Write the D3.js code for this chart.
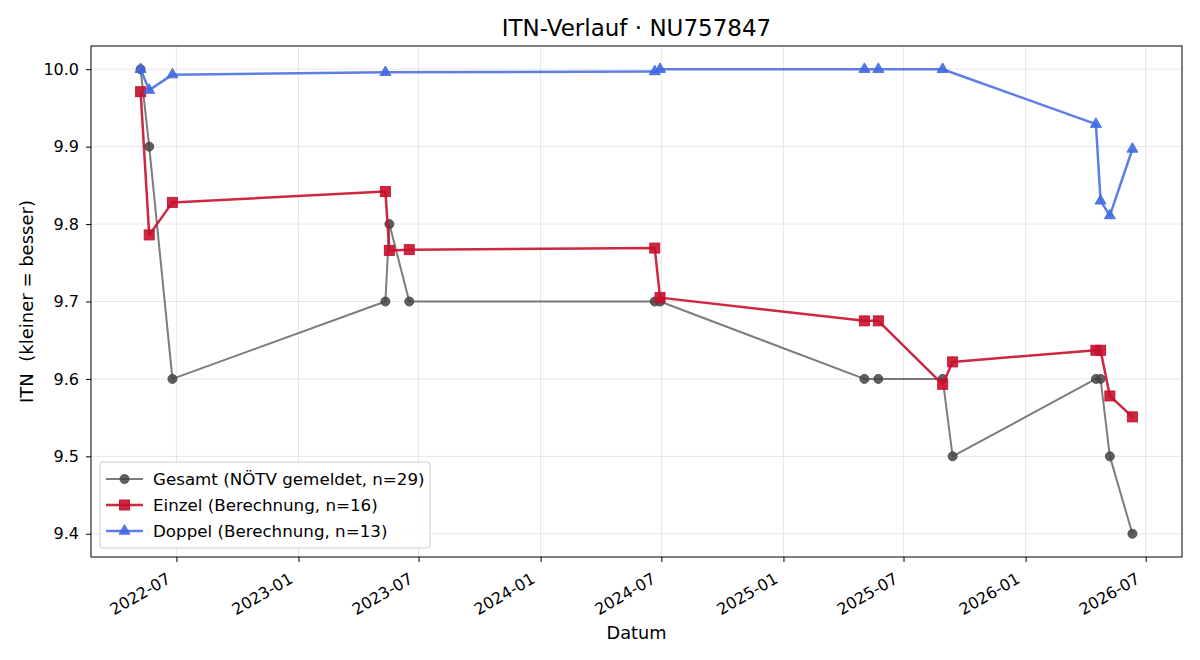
<!DOCTYPE html>
<html>
<head>
<meta charset="utf-8">
<script src="https://cdn.jsdelivr.net/npm/d3@7"></script>
<style>
  body { margin: 0; background: #fff; }
  text { font-family: "DejaVu Sans", sans-serif; }
</style>
</head>
<body>
<div id="chart"></div>
<script>
// data
var gesamtDates = ["2022-05-08","2022-05-21","2022-06-25","2023-05-12","2023-05-18","2023-06-17",
    "2024-06-21","2024-06-29","2025-05-03","2025-05-24","2025-08-29","2025-09-13",
    "2026-04-17","2026-04-24","2026-05-08","2026-06-11"];
var gesamtValues = [10.0, 9.9, 9.6, 9.7, 9.8, 9.7, 9.7, 9.7, 9.6, 9.6, 9.6, 9.5, 9.6, 9.6, 9.5, 9.4];

var einzelDates = ["2022-05-08","2022-05-21","2022-06-25","2023-05-12","2023-05-18","2023-06-17",
    "2024-06-21","2024-06-29","2025-05-03","2025-05-24","2025-08-29","2025-09-13",
    "2026-04-17","2026-04-24","2026-05-08","2026-06-11"];
var einzelValues = [9.971, 9.786, 9.828, 9.842, 9.766, 9.767, 9.769, 9.705, 9.675, 9.675,
    9.593, 9.622, 9.637, 9.637, 9.578, 9.551];

var doppelDates = ["2022-05-08","2022-05-21","2022-06-25","2023-05-12","2024-06-21","2024-06-29",
    "2025-05-03","2025-05-24","2025-08-29","2026-04-17","2026-04-24","2026-05-08","2026-06-11"];
var doppelValues = [10.0, 9.973, 9.993, 9.996, 9.997, 10.0, 10.0, 10.0, 10.0, 9.929, 9.830, 9.811, 9.897];

var yTicks = [9.4, 9.5, 9.6, 9.7, 9.8, 9.9, 10.0];
var legendLabels = ["Gesamt (NÖTV gemeldet, n=29)", "Einzel (Berechnung, n=16)", "Doppel (Berechnung, n=13)"];

var parse = d3.timeParse("%Y-%m-%d");
function zip(dates, values) {
    return dates.map(function(d, i) { return { date: parse(d), value: values[i] }; });
}

var series = [
    { label: legendLabels[0], data: zip(gesamtDates, gesamtValues), color: "#444444",
      lineOpacity: 0.7, width: 2, marker: "circle", size: 4.5, markerOpacity: 0.85 },
    { label: legendLabels[1], data: zip(einzelDates, einzelValues), color: "#c8102e",
      lineOpacity: 0.9, width: 2.5, marker: "square", size: 5, markerOpacity: 0.9 },
    { label: legendLabels[2], data: zip(doppelDates, doppelValues), color: "#4169e1",
      lineOpacity: 0.85, width: 2.5, marker: "triangle", size: 5.5, markerOpacity: 0.9 }
];

var W = 1200, H = 660;
var margin = { left: 91, right: 18, top: 46, bottom: 103 };
var width = W - margin.left - margin.right;
var height = H - margin.top - margin.bottom;

var svg = d3.select("#chart").append("svg")
    .attr("width", W)
    .attr("height", H);

var g = svg.append("g")
    .attr("transform", "translate(" + margin.left + "," + margin.top + ")");

// 5% margins like matplotlib
var allPts = series[0].data.concat(series[1].data, series[2].data);
var xExt = d3.extent(allPts, function(d) { return d.date; });
var xPad = (xExt[1] - xExt[0]) * 0.05;
var x = d3.scaleTime()
    .domain([new Date(+xExt[0] - xPad), new Date(+xExt[1] + xPad)])
    .range([0, width]);

var yExt = d3.extent(allPts, function(d) { return d.value; });
var yPad = (yExt[1] - yExt[0]) * 0.05;
var y = d3.scaleLinear()
    .domain([yExt[0] - yPad, yExt[1] + yPad])
    .range([height, 0]);

var xTicks = d3.timeMonth.every(6).range(d3.timeMonth.ceil(x.domain()[0]), x.domain()[1]);

// grid
g.append("g").selectAll("line").data(xTicks).enter().append("line")
    .attr("x1", function(d) { return x(d); })
    .attr("x2", function(d) { return x(d); })
    .attr("y1", 0).attr("y2", height)
    .attr("stroke", "#b0b0b0").attr("stroke-opacity", 0.3).attr("stroke-width", 1);
g.append("g").selectAll("line").data(yTicks).enter().append("line")
    .attr("y1", function(d) { return y(d); })
    .attr("y2", function(d) { return y(d); })
    .attr("x1", 0).attr("x2", width)
    .attr("stroke", "#b0b0b0").attr("stroke-opacity", 0.3).attr("stroke-width", 1);

// axes
var xAxis = g.append("g")
    .attr("transform", "translate(0," + height + ")")
    .call(d3.axisBottom(x).tickValues(xTicks).tickFormat(d3.timeFormat("%Y-%m")).tickSize(5));
xAxis.selectAll(".tick text")
    .attr("font-size", "16px")
    .attr("fill", "#000")
    .style("text-anchor", "end")
    .attr("x", null).attr("y", null).attr("dy", null)
    .attr("transform", "translate(-5,25) rotate(-30)");

var yAxis = g.append("g")
    .call(d3.axisLeft(y).tickValues(yTicks).tickFormat(d3.format(".1f")).tickSize(5).tickPadding(7));
yAxis.selectAll("text").attr("font-size", "16px").attr("fill", "#000");

[xAxis, yAxis].forEach(function(a) {
    a.select(".domain").remove();
    a.selectAll(".tick line").attr("stroke", "#000").attr("stroke-width", 1);
});

g.append("rect")
    .attr("width", width).attr("height", height)
    .attr("fill", "none").attr("stroke", "#000").attr("stroke-width", 1);

// lines + markers
var line = d3.line()
    .x(function(d) { return x(d.date); })
    .y(function(d) { return y(d.value); });

function drawMarker(sel, s) {
    if (s.marker == "circle") {
        sel.append("circle").attr("r", s.size);
    } else if (s.marker == "square") {
        sel.append("rect")
            .attr("x", -s.size).attr("y", -s.size)
            .attr("width", s.size * 2).attr("height", s.size * 2);
    } else {
        sel.append("path").attr("d", d3.symbol().type(d3.symbolTriangle).size(s.size * s.size * 1.73)());
    }
}

series.forEach(function(s) {
    g.append("path")
        .datum(s.data)
        .attr("d", line)
        .attr("fill", "none")
        .attr("stroke", s.color)
        .attr("stroke-opacity", s.lineOpacity)
        .attr("stroke-width", s.width)
        .attr("stroke-linejoin", "round");

    var m = g.append("g").selectAll("g").data(s.data).enter().append("g")
        .attr("transform", function(d) { return "translate(" + x(d.date) + "," + y(d.value) + ")"; })
        .attr("fill", s.color)
        .attr("fill-opacity", s.markerOpacity)
        .attr("stroke", s.color)
        .attr("stroke-opacity", s.markerOpacity)
        .attr("stroke-width", 1);
    m.each(function() { drawMarker(d3.select(this), s); });
});

// legend
var legend = g.append("g").attr("transform", "translate(9," + (height - 95) + ")");
legend.append("rect")
    .attr("width", 330).attr("height", 86)
    .attr("rx", 3)
    .attr("fill", "#fff").attr("fill-opacity", 0.8)
    .attr("stroke", "#cccccc");

var legendRow = legend.selectAll(".legendRow")
    .data(series)
    .enter().append("g")
    .attr("class", "legendRow")
    .attr("transform", function(d, i) { return "translate(0," + (17 + i * 26) + ")"; });

legendRow.append("line")
    .attr("x1", 6).attr("x2", 43)
    .attr("stroke", function(d) { return d.color; })
    .attr("stroke-opacity", function(d) { return d.lineOpacity; })
    .attr("stroke-width", function(d) { return d.width; });
legendRow.each(function(s) {
    var mk = d3.select(this).append("g")
        .attr("transform", "translate(24.5,0)")
        .attr("fill", s.color).attr("fill-opacity", s.markerOpacity)
        .attr("stroke", s.color).attr("stroke-opacity", s.markerOpacity);
    drawMarker(mk, s);
});
legendRow.append("text")
    .attr("x", 53).attr("y", 0).attr("dy", "0.35em")
    .attr("font-size", "16.7px")
    .text(function(d) { return d.label; });

// titles
svg.append("text")
    .attr("x", margin.left + width / 2).attr("y", 36)
    .attr("text-anchor", "middle")
    .attr("font-size", "23px")
    .text("ITN-Verlauf · NU757847");

svg.append("text")
    .attr("x", margin.left + width / 2).attr("y", 639)
    .attr("text-anchor", "middle")
    .attr("font-size", "17.7px")
    .text("Datum");

svg.append("text")
    .attr("transform", "translate(33," + (margin.top + height / 2) + ") rotate(-90)")
    .attr("text-anchor", "middle")
    .attr("font-size", "18px")
    .style("white-space", "pre")
    .text("ITN  (kleiner = besser)");
</script>
</body>
</html>
